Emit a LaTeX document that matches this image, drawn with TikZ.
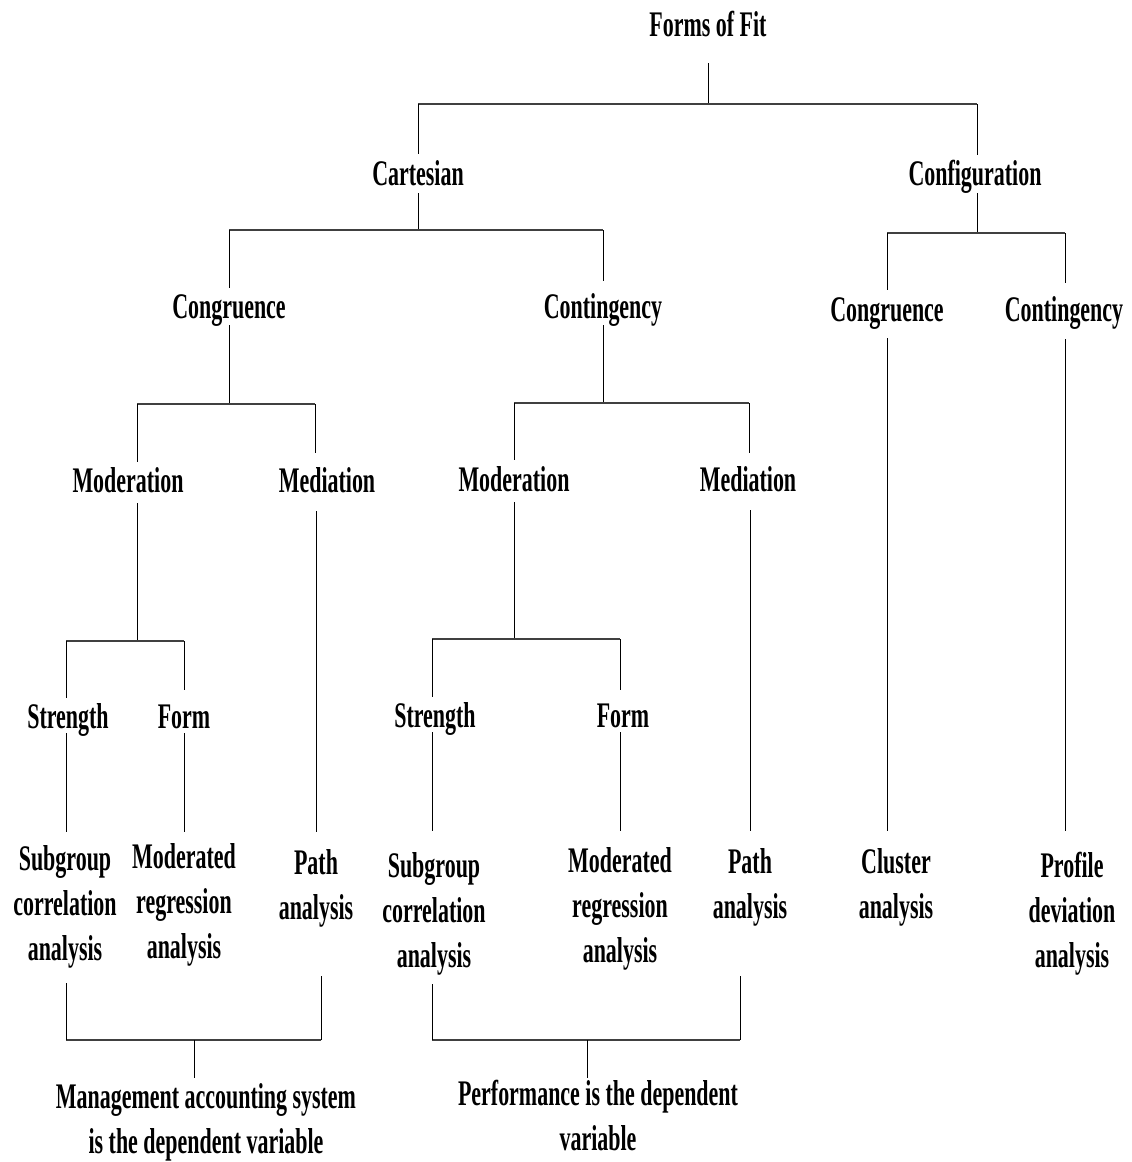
\documentclass[tikz,border=0pt]{standalone}
\usepackage{fontspec}
\setmainfont{Liberation Serif}[FakeStretch=0.61]
\begin{document}
\begin{tikzpicture}[x=1pt,y=-1pt,
  lbl/.style={font=\fontsize{36}{45}\selectfont\bfseries, anchor=base, inner sep=0pt, align=center},
  ln/.style={line width=0.8pt},
  bar/.style={line width=2pt, black!75}]
\useasboundingbox (0,0) rectangle (1132,1162);
% nodes (multi-line nodes: base = baseline of last line)
\node[lbl] (root) at (708,36) {Forms of Fit};
\node[lbl] (cart) at (418,185) {Cartesian};
\node[lbl] (conf) at (975,185) {Configuration};
\node[lbl] (congL) at (229,318) {Congruence};
\node[lbl] (contM) at (603,318) {Contingency};
\node[lbl] (congR) at (887,321) {Congruence};
\node[lbl] (contR) at (1064,321) {Contingency};
\node[lbl] (modL) at (128,492) {Moderation};
\node[lbl] (medL) at (327,492) {Mediation};
\node[lbl] (modM) at (514,491) {Moderation};
\node[lbl] (medM) at (748,491) {Mediation};
\node[lbl] (strL) at (68,728) {Strength};
\node[lbl] (formL) at (184,728) {Form};
\node[lbl] (strM) at (435,727) {Strength};
\node[lbl] (formM) at (623,727) {Form};
\node[lbl] (subL) at (65,960) {Subgroup\\correlation\\analysis};
\node[lbl] (mrL) at (184,958) {Moderated\\regression\\analysis};
\node[lbl] (pathL) at (316,919) {Path\\analysis};
\node[lbl] (subM) at (434,967) {Subgroup\\correlation\\analysis};
\node[lbl] (mrM) at (620,962) {Moderated\\regression\\analysis};
\node[lbl] (pathM) at (750,918) {Path\\analysis};
\node[lbl] (clus) at (896,918) {Cluster\\analysis};
\node[lbl] (prof) at (1072,967) {Profile\\deviation\\analysis};
\node[lbl] (mas) at (206,1153) {Management accounting system\\is the dependent variable};
\node[lbl] (perf) at (598,1150) {Performance is the dependent\\variable};
% junctions
\coordinate (j0) at (708,104); \coordinate (b0l) at (418,104); \coordinate (b0r) at (977,104);
\coordinate (j1) at (418,230); \coordinate (b1l) at (229,230); \coordinate (b1r) at (603,230);
\coordinate (j2) at (977,233); \coordinate (b2l) at (887,233); \coordinate (b2r) at (1065,233);
\coordinate (j3) at (229,404); \coordinate (b3l) at (137,404); \coordinate (b3r) at (315,404);
\coordinate (j4) at (603,403); \coordinate (b4l) at (514,403); \coordinate (b4r) at (749,403);
\coordinate (j5) at (137,641); \coordinate (b5l) at (66,641); \coordinate (b5r) at (184,641);
\coordinate (j6) at (514,639); \coordinate (b6l) at (432,639); \coordinate (b6r) at (620,639);
\coordinate (j7) at (194,1040); \coordinate (b7l) at (66,1040); \coordinate (b7r) at (321,1040);
\coordinate (j8) at (587,1040); \coordinate (b8l) at (432,1040); \coordinate (b8r) at (740,1040);
% level 0
\draw[ln] ([yshift=-27pt]root.base) -- (j0);
\draw[bar] (b0l) -- (b0r);
\draw[ln] (b0l) -- ([yshift=31pt]cart.base);
\draw[ln] (b0r) -- ([xshift=2pt,yshift=30pt]conf.base);
% Cartesian
\draw[ln] ([yshift=-8pt]cart.base) -- (j1);
\draw[bar] (b1l) -- (b1r);
\draw[ln] (b1l) -- ([yshift=30pt]congL.base);
\draw[ln] (b1r) -- ([yshift=37pt]contM.base);
% Configuration
\draw[ln] ([xshift=2pt,yshift=-8pt]conf.base) -- (j2);
\draw[bar] (b2l) -- (b2r);
\draw[ln] (b2l) -- ([yshift=31pt]congR.base);
\draw[ln] (b2r) -- ([xshift=1pt,yshift=38pt]contR.base);
\draw[ln] ([yshift=-17pt]congR.base) -- ([xshift=-9pt,yshift=87pt]clus.base);
\draw[ln] ([xshift=1pt,yshift=-18pt]contR.base) -- ([xshift=-7pt,yshift=136pt]prof.base);
% Congruence (Cartesian)
\draw[ln] ([yshift=-7pt]congL.base) -- (j3);
\draw[bar] (b3l) -- (b3r);
\draw[ln] (b3l) -- ([xshift=9pt,yshift=30pt]modL.base);
\draw[ln] (b3r) -- ([xshift=-12pt,yshift=39pt]medL.base);
% Contingency (Cartesian)
\draw[ln] ([yshift=-7pt]contM.base) -- (j4);
\draw[bar] (b4l) -- (b4r);
\draw[ln] (b4l) -- ([yshift=31pt]modM.base);
\draw[ln] (b4r) -- ([xshift=1pt,yshift=38pt]medM.base);
% Moderation L
\draw[ln] ([xshift=9pt,yshift=-11pt]modL.base) -- (j5);
\draw[bar] (b5l) -- (b5r);
\draw[ln] (b5l) -- ([xshift=-2pt,yshift=30pt]strL.base);
\draw[ln] (b5r) -- ([yshift=38pt]formL.base);
\draw[ln] ([xshift=-11pt,yshift=-19pt]medL.base) -- ([yshift=87pt]pathL.base);
% Moderation M
\draw[ln] ([yshift=-11pt]modM.base) -- (j6);
\draw[bar] (b6l) -- (b6r);
\draw[ln] (b6l) -- ([xshift=-3pt,yshift=30pt]strM.base);
\draw[ln] (b6r) -- ([xshift=-3pt,yshift=37pt]formM.base);
\draw[ln] ([xshift=2pt,yshift=-19pt]medM.base) -- ([yshift=87pt]pathM.base);
% leaves
\draw[ln] ([xshift=-2pt,yshift=-5pt]strL.base) -- ([xshift=1pt,yshift=128pt]subL.base);
\draw[ln] ([yshift=-5pt]formL.base) -- ([yshift=126pt]mrL.base);
\draw[ln] ([xshift=-3pt,yshift=-5pt]strM.base) -- ([xshift=-2pt,yshift=136pt]subM.base);
\draw[ln] ([xshift=-3pt,yshift=-5pt]formM.base) -- ([yshift=131pt]mrM.base);
% bottom brackets
\draw[bar] (b7l) -- (b7r);
\draw[ln] (b7l) -- ([xshift=1pt,yshift=-15pt]subL.south);
\draw[ln] (b7r) -- ([xshift=5pt,yshift=-49pt]pathL.south);
\draw[ln] (j7) -- ([xshift=-12pt,yshift=75pt]mas.base);
\draw[bar] (b8l) -- (b8r);
\draw[ln] (b8l) -- ([xshift=-2pt,yshift=-9pt]subM.south);
\draw[ln] (b8r) -- ([xshift=-10pt,yshift=-50pt]pathM.south);
\draw[ln] (j8) -- ([xshift=-11pt,yshift=72pt]perf.base);
\end{tikzpicture}
\end{document}
